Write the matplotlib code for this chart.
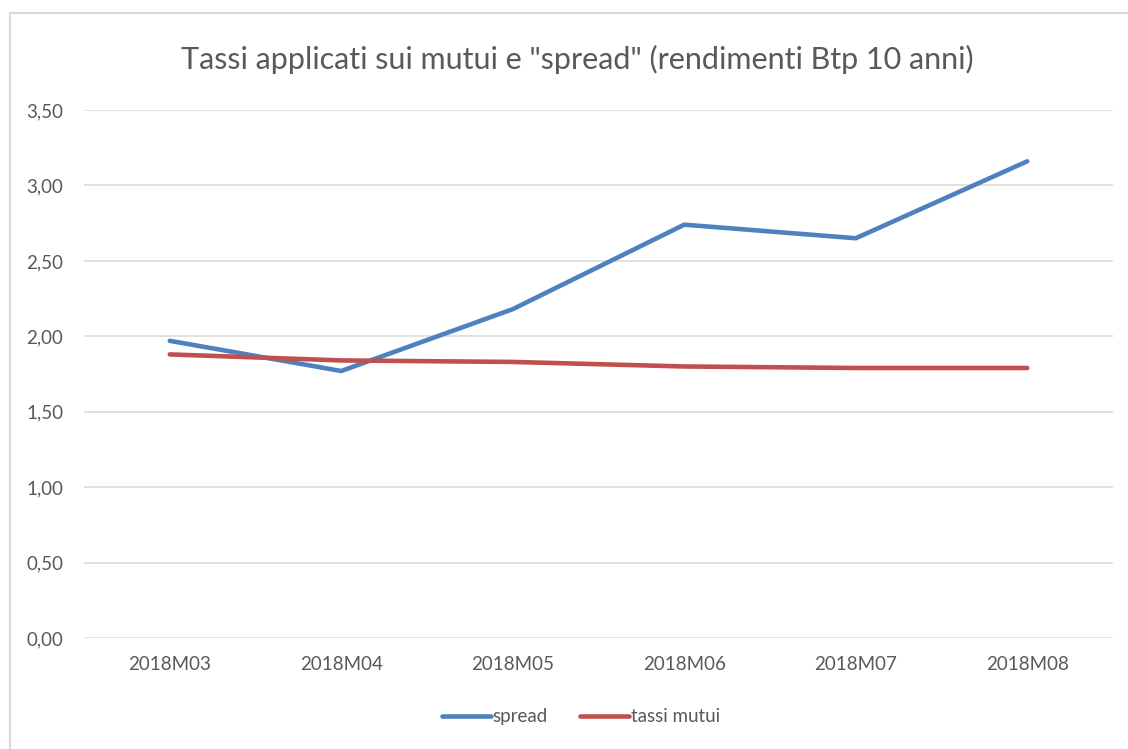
import matplotlib.pyplot as plt
from matplotlib.ticker import FuncFormatter, MultipleLocator
from matplotlib.patches import Rectangle

# values
months = ["2018M03", "2018M04", "2018M05", "2018M06", "2018M07", "2018M08"]
spread = [1.97, 1.77, 2.18, 2.74, 2.65, 3.16]
tassi_mutui = [1.88, 1.84, 1.83, 1.80, 1.79, 1.79]

plt.rcParams['font.family'] = ['Lato', 'DejaVu Sans']
text_col = '#595959'

fig = plt.figure(figsize=(11.28, 7.49), dpi=100)
ax = fig.add_axes([0.0745, 0.1482, 0.9122, 0.7049])

# chart area border (light grey)
fig.patches.append(Rectangle((10 / 1128, -0.1), 1.2, (749 - 13) / 749 + 0.1,
                             transform=fig.transFigure, fill=False,
                             edgecolor='#d9d9d9', linewidth=1.5))

x = range(len(months))
ax.plot(x, spread, color='#4F81BD', linewidth=3.3, solid_capstyle='round',
        label='spread', zorder=3)
ax.plot(x, tassi_mutui, color='#C0504D', linewidth=3.3, solid_capstyle='round',
        label='tassi mutui', zorder=3)

ax.set_xlim(-0.5, len(months) - 0.5)
ax.set_ylim(0, 3.5)
ax.yaxis.set_major_locator(MultipleLocator(0.5))
ax.yaxis.set_major_formatter(FuncFormatter(lambda v, p: f"{v:.2f}".replace('.', ',')))
ax.set_xticks(list(x))
ax.set_xticklabels(months)

ax.grid(axis='y', color='#d9d9d9', linewidth=1.1)
ax.set_axisbelow(True)
for s in ax.spines.values():
    s.set_visible(False)
ax.tick_params(axis='both', length=0, labelsize=13.5, labelcolor=text_col)
ax.tick_params(axis='y', pad=15)
ax.tick_params(axis='x', pad=13)

fig.text(0.512, 0.92, 'Tassi applicati sui mutui e "spread" (rendimenti Btp 10 anni)',
         ha='center', va='center', fontsize=22, color=text_col)

leg = fig.legend(loc='center', bbox_to_anchor=(0.515, 0.043), ncol=2, frameon=False,
                 fontsize=13.5, handlelength=2.6, handletextpad=0.1, columnspacing=1.7)
for t in leg.get_texts():
    t.set_color(text_col)

fig.savefig('out.png', dpi=100, facecolor='white')
